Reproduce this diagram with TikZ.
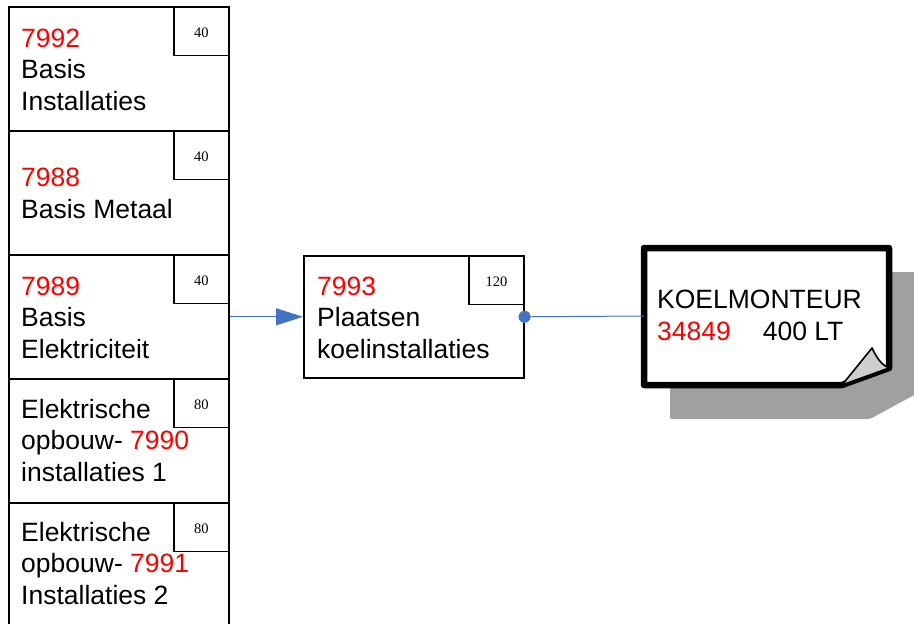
\documentclass[tikz,border=0pt]{standalone}
\usepackage{fontspec}
\setmainfont{Liberation Sans}
\newfontfamily\numfont{Liberation Serif}
\usetikzlibrary{arrows.meta}
\definecolor{linkblue}{RGB}{68,114,196}
\definecolor{txtred}{RGB}{255,0,0}
\definecolor{shadowgray}{RGB}{160,160,160}
\definecolor{foldgray}{RGB}{206,206,206}
\newcommand{\rd}[1]{\textcolor{txtred}{#1}}
\begin{document}
\begin{tikzpicture}[x=1pt,y=-1pt,
  taskbox/.style={draw=black, line width=1.6pt, minimum width=220pt, minimum height=124pt, anchor=north west, inner sep=0pt},
  durbox/.style={draw=black, line width=1.4pt, minimum width=55pt, minimum height=49pt, anchor=north east, inner sep=0pt},
  durtxt/.style={inner sep=0pt, font=\numfont\fontsize{14.5}{14.5}\selectfont},
  lbl/.style={anchor=base west, align=left, inner sep=0pt, font=\fontsize{26.5}{31.5}\selectfont},
  link/.style={draw=linkblue, line width=1pt}
]
\useasboundingbox (0,0) rectangle (914,624);
\clip (0,0) rectangle (914,624);

% left column
\node[taskbox] (b1) at (8,6) {};
\node[taskbox] (b2) at (8,130) {};
\node[taskbox] (b3) at (8,254) {};
\node[taskbox] (b4) at (8,378) {};
\node[taskbox] (b5) at (8,502) {};
\node[durbox] (d1) at (b1.north east) {};
\node[durbox] (d2) at (b2.north east) {};
\node[durbox] (d3) at (b3.north east) {};
\node[durbox] (d4) at (b4.north east) {};
\node[durbox] (d5) at (b5.north east) {};
\node[durtxt] at ([yshift=-1.5pt]d1.center) {40};
\node[durtxt] at ([yshift=-1.5pt]d2.center) {40};
\node[durtxt] at ([yshift=-1.5pt]d3.center) {40};
\node[durtxt] at ([yshift=-1.5pt]d4.center) {80};
\node[durtxt] at ([yshift=-1.5pt]d5.center) {80};
\node[lbl] (l1) at (21,110) {\rd{7992}\\Basis\\Installaties};
\node[lbl] (l2) at (21,218) {\rd{7988}\\Basis Metaal};
\node[lbl] (l3) at (21,358) {\rd{7989}\\Basis\\Elektriciteit};
\node[lbl] (l4) at (21,481) {Elektrische\\opbouw- \rd{7990}\\installaties 1};
\node[lbl] (l5) at (21,604) {Elektrische\\opbouw- \rd{7991}\\Installaties 2};

% middle task
\node[taskbox, minimum height=122pt] (t) at (303,255) {};
\node[durbox] (dt) at (t.north east) {};
\node[durtxt] at ([yshift=-1.5pt]dt.center) {120};
\node[lbl] (lt) at (317,358) {\rd{7993}\\Plaatsen\\koelinstallaties};

% resource note
\fill[shadowgray, rounded corners=2pt] (670,272) -- (916,272) -- (916,394) -- (870,419) -- (670,419) -- cycle;
\coordinate (note) at (644,316);
\filldraw[fill=white, draw=black, line width=6.5pt, line join=round] (644,248) -- (889,248) -- (889,368) -- (842,385) -- (644,385) -- cycle;
\filldraw[fill=foldgray, draw=black, line width=1.6pt, line join=round] (842,385) -- (872,348) .. controls (876,356) and (880,364) .. (889,368) -- cycle;
\node[lbl] (ln) at (657,340) {KOELMONTEUR\\\rd{34849}\hspace{32pt}400 LT};

% connectors
\draw[link, -{Triangle[length=27pt,width=17pt]}] (b3.east) -- (t.west);
\draw[link] (t.east) -- (note);
\fill[linkblue] (t.east) circle (6pt);
\end{tikzpicture}
\end{document}
